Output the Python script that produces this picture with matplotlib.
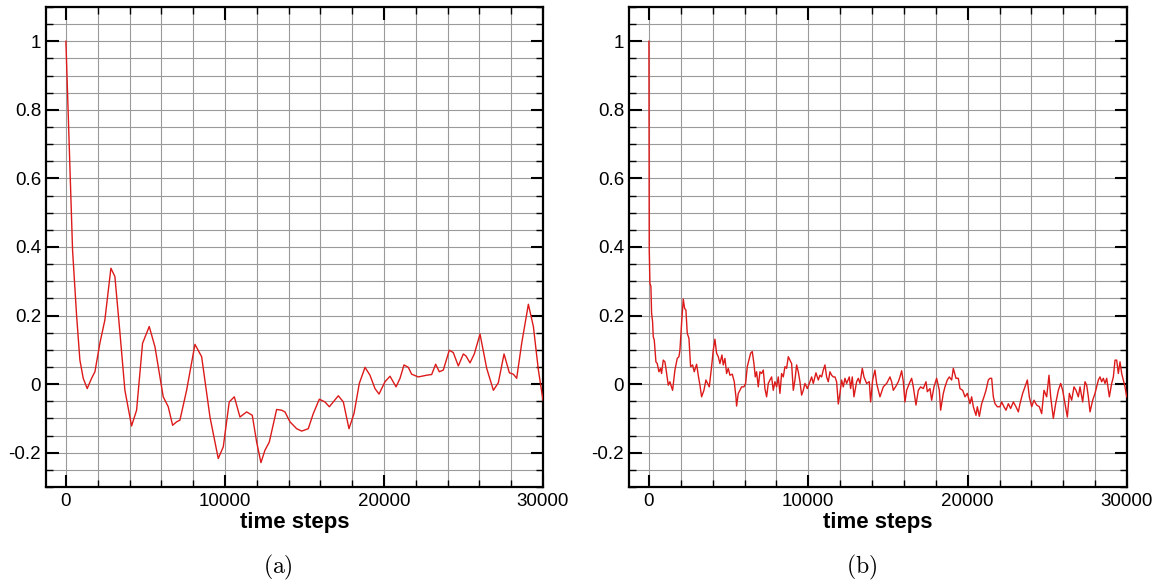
import matplotlib
matplotlib.use("Agg")
import matplotlib.pyplot as plt
from matplotlib.ticker import MultipleLocator, FormatStrFormatter

plt.rcParams['font.family'] = ['Liberation Sans', 'DejaVu Sans']
plt.rcParams['axes.unicode_minus'] = False
plt.rcParams['mathtext.fontset'] = 'cm'

# (a) smooth signal
steps_a = [0, 420, 673, 880, 1090, 1340, 1615, 1825, 2140, 2450, 2830, 3080, 3400, 3710,
           4130, 4445, 4820, 5240, 5600, 6120, 6435, 6710, 6960, 7170, 7590, 8115, 8535,
           9060, 9580, 9895, 10270, 10590, 10945, 11365, 11720, 11995, 12265, 12515, 12790,
           13250, 13565, 13775, 14090, 14510, 14825, 15240, 15555, 15935, 16290, 16565,
           17130, 17445, 17800, 18115, 18450, 18810, 19120, 19435, 19690, 20065, 20380,
           20760, 21010, 21260, 21530, 21740, 22160, 22685, 23000, 23250, 23480, 23730,
           24110, 24360, 24675, 24990, 25160, 25410, 25680, 26040, 26460, 26880, 27190,
           27550, 27885, 28135, 28345, 28660, 29080, 29395, 29710, 30000]
vals_a = [1.0, 0.39, 0.20, 0.07, 0.017, -0.013, 0.017, 0.036, 0.12, 0.187, 0.338, 0.314,
          0.149, -0.018, -0.122, -0.076, 0.119, 0.168, 0.109, -0.037, -0.066, -0.12, -0.11,
          -0.105, -0.018, 0.116, 0.08, -0.096, -0.217, -0.183, -0.052, -0.037, -0.096,
          -0.081, -0.091, -0.169, -0.229, -0.193, -0.169, -0.074, -0.076, -0.081, -0.11,
          -0.13, -0.137, -0.13, -0.086, -0.044, -0.052, -0.066, -0.034, -0.052, -0.13,
          -0.086, 0.002, 0.049, 0.026, -0.013, -0.029, 0.007, 0.023, -0.008, 0.017, 0.056,
          0.049, 0.029, 0.021, 0.026, 0.028, 0.058, 0.036, 0.041, 0.099, 0.092, 0.053,
          0.088, 0.082, 0.062, 0.088, 0.146, 0.046, -0.018, 0.004, 0.088, 0.033, 0.029,
          0.017, 0.119, 0.233, 0.168, 0.041, -0.047]

# (b) noisy signal
steps_b = [0, 21, 63, 126, 168, 230, 272, 335, 440, 523, 628, 732, 795, 900, 1004, 1067,
           1214, 1318, 1381, 1486, 1632, 1778, 1883, 1946, 2050, 2155, 2239, 2322, 2406,
           2511, 2615, 2741, 2845, 2992, 3096, 3201, 3306, 3452, 3578, 3682, 3787, 3933,
           4038, 4142, 4247, 4352, 4456, 4582, 4665, 4770, 4875, 4979, 5084, 5230, 5356,
           5460, 5502, 5607, 5711, 5816, 5962, 6067, 6172, 6276, 6381, 6485, 6590, 6674,
           6757, 6862, 6967, 7071, 7176, 7280, 7385, 7490, 7594, 7699, 7803, 7908, 8013,
           8117, 8222, 8326, 8431, 8536, 8640, 8745, 8849, 8954, 9059, 9163, 9268, 9372,
           9477, 9582, 9686, 9791, 9937, 10105, 10209, 10314, 10481, 10628, 10732, 10837,
           10941, 11046, 11151, 11255, 11360, 11464, 11569, 11674, 11778, 11883, 11987,
           12092, 12197, 12301, 12406, 12573, 12657, 12761, 12866, 13033, 13138, 13243,
           13389, 13494, 13661, 13828, 13912, 14038, 14184, 14289, 14498, 14707, 14916,
           15126, 15230, 15335, 15502, 15649, 15753, 15858, 15962, 16067, 16172, 16339,
           16485, 16590, 16757, 16904, 17050, 17218, 17385, 17469, 17636, 17741, 17887,
           18054, 18222, 18305, 18473, 18577, 18724, 18849, 18996, 19100, 19268, 19414,
           19519, 19686, 19833, 19979, 20146, 20251, 20356, 20523, 20607, 20732, 20879,
           21025, 21151, 21297, 21402, 21506, 21611, 21715, 21862, 22029, 22134, 22280,
           22406, 22552, 22699, 22866, 23033, 23180, 23284, 23451, 23598, 23745, 23870,
           24017, 24163, 24330, 24498, 24644, 24791, 24958, 25104, 25209, 25376, 25523,
           25690, 25836, 25962, 26109, 26255, 26381, 26527, 26673, 26799, 26945, 27050,
           27217, 27364, 27468, 27573, 27678, 27845, 27991, 28096, 28201, 28305, 28410,
           28514, 28619, 28724, 28891, 29037, 29142, 29247, 29351, 29456, 29560, 29665,
           29770, 29874, 29979]
vals_b = [1.0, 0.392, 0.294, 0.285, 0.207, 0.182, 0.138, 0.129, 0.065, 0.060, 0.036, 0.046,
          0.031, 0.070, 0.065, 0.046, -0.003, 0.007, -0.003, -0.018, 0.041, 0.075, 0.080,
          0.099, 0.177, 0.248, 0.221, 0.216, 0.148, 0.134, 0.051, 0.056, 0.036, 0.058,
          0.026, -0.003, -0.037, -0.018, 0.012, 0.002, -0.008, 0.051, 0.099, 0.131, 0.090,
          0.080, 0.060, 0.085, 0.056, 0.075, 0.031, 0.046, 0.026, 0.029, 0.007, -0.037,
          -0.064, -0.027, -0.018, -0.008, -0.008, 0.002, 0.051, 0.070, 0.090, 0.095, 0.060,
          0.021, 0.036, -0.008, 0.036, 0.031, 0.041, -0.013, -0.037, 0.002, 0.012, 0.021,
          -0.018, 0.007, -0.008, 0.021, -0.027, 0.031, 0.021, 0.051, 0.046, 0.080, 0.070,
          0.060, -0.018, 0.012, 0.056, 0.036, 0.007, -0.032, -0.018, 0.002, -0.013, 0.007,
          0.021, 0.002, 0.033, 0.012, 0.026, 0.021, 0.041, 0.056, 0.021, 0.007, 0.036,
          0.026, 0.021, 0.021, 0.007, -0.058, -0.027, 0.012, -0.008, 0.017, 0.002, 0.021,
          -0.013, 0.021, -0.037, 0.007, 0.017, 0.002, 0.046, 0.021, 0.002, 0.007, -0.052,
          0.012, 0.041, 0.002, -0.037, -0.008, 0.002, 0.021, 0.007, -0.018, -0.006, 0.007,
          0.021, 0.039, 0.007, -0.052, -0.018, 0.002, 0.017, -0.008, -0.061, -0.018, -0.008,
          -0.013, 0.007, -0.022, -0.013, -0.047, -0.008, 0.017, -0.018, -0.076, -0.027,
          -0.008, 0.012, 0.021, 0.012, 0.046, 0.017, 0.017, -0.013, -0.018, -0.037, -0.027,
          -0.057, -0.037, -0.066, -0.091, -0.066, -0.094, -0.057, -0.037, -0.018, 0.012,
          0.017, 0.017, -0.037, -0.057, -0.066, -0.066, -0.052, -0.066, -0.076, -0.057,
          -0.071, -0.052, -0.066, -0.081, -0.057, -0.027, -0.008, 0.012, -0.037, -0.066,
          -0.047, -0.061, -0.066, -0.086, -0.018, -0.037, 0.026, -0.037, -0.100, -0.057,
          -0.018, 0.002, -0.018, -0.057, -0.096, -0.027, -0.047, -0.008, -0.018, -0.037,
          -0.008, -0.052, 0.007, -0.003, -0.037, -0.081, -0.047, -0.027, -0.008, 0.012,
          0.021, 0.007, 0.017, 0.002, 0.017, -0.037, 0.002, 0.021, 0.070, 0.070, 0.031,
          0.065, 0.031, 0.012, -0.008, -0.037]

captions = ['(a)', '(b)']

fig = plt.figure(figsize=(11.62, 5.83), dpi=100)
ax_a = fig.add_axes([0.0396, 0.1647, 0.4277, 0.8233])
ax_b = fig.add_axes([0.5413, 0.1647, 0.4286, 0.8233])

for ax, xs, ys in [(ax_a, steps_a, vals_a), (ax_b, steps_b, vals_b)]:
    ax.plot(xs, ys, color='#dd1a1a', lw=1.0, zorder=3)
    ax.set_xlim(-1250, 30000)
    ax.set_ylim(-0.3, 1.1)
    ax.xaxis.set_major_locator(MultipleLocator(10000))
    ax.xaxis.set_minor_locator(MultipleLocator(2000))
    ax.yaxis.set_major_locator(MultipleLocator(0.2))
    ax.yaxis.set_minor_locator(MultipleLocator(0.05))
    ax.yaxis.set_major_formatter(FormatStrFormatter('%g'))
    ax.grid(True, which='both', color='#9a9a9a', lw=0.8, zorder=0)
    ax.set_axisbelow(True)
    ax.tick_params(which='both', direction='in', top=True, right=True,
                   width=1.5, colors='black', labelsize=13.5)
    ax.tick_params(which='major', length=9)
    ax.tick_params(axis='x', which='major', pad=4.5)
    ax.tick_params(axis='y', which='major', pad=3.5)
    ax.tick_params(which='minor', length=5, width=1.0)
    for s in ax.spines.values():
        s.set_linewidth(1.6)
    ax.set_xlabel('time steps', fontsize=16, fontweight='bold', labelpad=1)

fig.text(0.2392, 0.027, r'$(\mathrm{a})$', fontsize=17, ha='center', va='center')
fig.text(0.7418, 0.027, r'$(\mathrm{b})$', fontsize=17, ha='center', va='center')

fig.savefig('out.png', dpi=100)
